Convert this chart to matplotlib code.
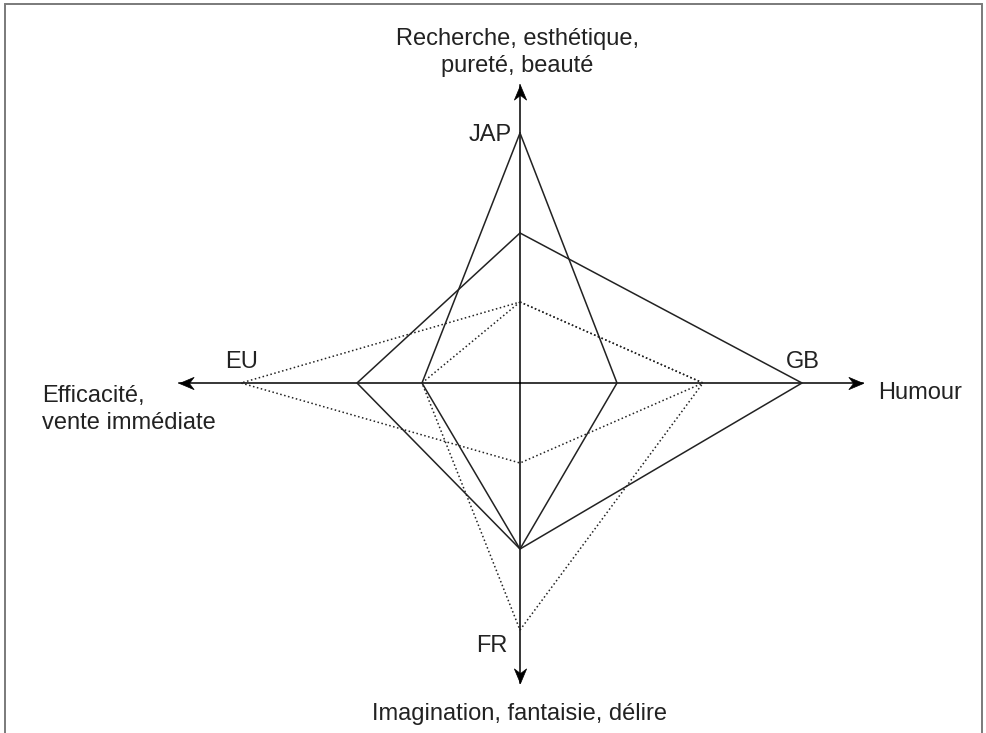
import numpy as np
import matplotlib.pyplot as plt
from matplotlib.patches import Rectangle
from matplotlib.path import Path
from matplotlib.markers import MarkerStyle
from matplotlib.transforms import Affine2D

plt.rcParams['font.family'] = ['Liberation Sans', 'DejaVu Sans']

# axis directions: up, right, down, left
AXIS_NAMES = ["Recherche, esthétique,\npureté, beauté", "Humour",
              "Imagination, fantaisie, délire", "Efficacité,\nvente immédiate"]
AXIS_REACH = [298, 343, 300, 341]

# values per country along (up, right, down, left)
countries = ["JAP", "GB", "EU", "FR"]
jap = [250, 97, 166, 98]
gb = [150, 282, 166, 163]
eu = [81, 183, 80, 279]
fr = [81, 183, 247, 98]
series = [jap, gb, eu, fr]
styles = ["-", "-", ":", ":"]

INK = "#222222"

fig = plt.figure(figsize=(9.86, 7.33), dpi=100)
ax = fig.add_axes([0, 0, 1, 1])
ax.set_xlim(-520, 466)
ax.set_ylim(-350, 383)
ax.axis("off")

# frame around the picture (open at the bottom)
fig.patches.append(Rectangle((5 / 986, -0.05), 977 / 986, 1.05 - 4 / 733,
                             transform=fig.transFigure, fill=False,
                             edgecolor="#7a7a7a", lw=1.4))

dirs = np.array([[0, 1], [1, 0], [0, -1], [-1, 0]])
angles = [90, 0, -90, 180]

# stealth arrow head, tip at the origin, pointing right
stealth = Path([(0, 0), (-1, 0.42), (-0.68, 0), (-1, -0.42), (0, 0)],
               [Path.MOVETO, Path.LINETO, Path.LINETO, Path.LINETO, Path.CLOSEPOLY])

# axes with arrow heads
for d, reach, ang in zip(dirs, AXIS_REACH, angles):
    tip = d * reach
    ax.plot([0, tip[0]], [0, tip[1]], color="black", lw=1.1)
    m = MarkerStyle(stealth, transform=Affine2D().rotate_deg(ang))
    ax.plot(tip[0], tip[1], marker=m, markersize=21, color="black", mew=0.5)

# country polygons
for vals, ls in zip(series, styles):
    pts = dirs * np.array(vals)[:, None]
    pts = np.vstack([pts, pts[:1]])
    ax.plot(pts[:, 0], pts[:, 1], linestyle=ls, color=INK, lw=1.1)

fs = 17
# country labels next to their extreme vertex
ax.text(-8, jap[0] - 8, "JAP", ha="right", va="baseline", fontsize=fs, color=INK)
ax.text(gb[1] + 1, 15, "GB", ha="center", va="baseline", fontsize=fs, color=INK)
ax.text(-eu[3] + 1, 15, "EU", ha="center", va="baseline", fontsize=fs, color=INK)
ax.text(-28, -fr[2] - 22, "FR", ha="center", va="baseline", fontsize=fs, color=INK)

# axis titles
ax.text(-3, 311, AXIS_NAMES[0], ha="center", va="baseline",
        fontsize=fs, color=INK, linespacing=1.3)
ax.text(AXIS_REACH[1] + 15, -16, AXIS_NAMES[1], ha="left", va="baseline",
        fontsize=fs, color=INK)
ax.text(0, -337, AXIS_NAMES[2], ha="center", va="baseline",
        fontsize=fs, color=INK)
ax.text(-478, -46, AXIS_NAMES[3], ha="left", va="baseline",
        fontsize=fs, color=INK, linespacing=1.3)

fig.savefig("out.png", dpi=100)
plt.close(fig)
